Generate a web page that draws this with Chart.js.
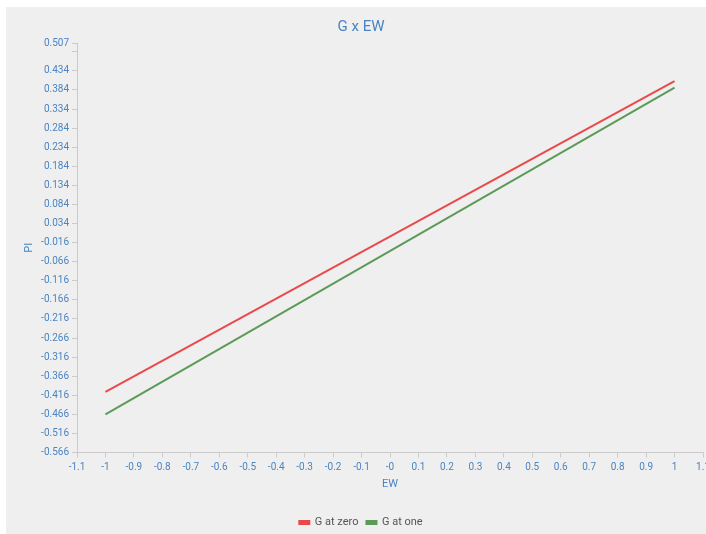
<!DOCTYPE html>
<html>
<head>
<meta charset="utf-8">
<script src="https://cdn.jsdelivr.net/npm/chart.js@4"></script>
<style>
  html, body { margin: 0; padding: 0; background: #ffffff; overflow: hidden; width: 706px; height: 534px; }
  #frame { position: absolute; left: 6px; top: 7px; width: 710px; height: 531px; background: #efefef; }
  canvas { display: block; }
</style>
</head>
<body>
<div id="frame"><canvas id="chart" width="710" height="531"></canvas></div>
<script>
// EW values at which the simple slopes are evaluated
const ewValues = [-1, 1];
// Predicted PI for each level of G
const gAtZero = [-0.407, 0.407];
const gAtOne = [-0.466, 0.39];
const seriesNames = ['G at zero', 'G at one'];

// Axis ticks and their labels
const xTicks = [-1.1, -1, -0.9, -0.8, -0.7, -0.6, -0.5, -0.4, -0.3, -0.2, -0.1, 0, 0.1, 0.2, 0.3, 0.4, 0.5, 0.6, 0.7, 0.8, 0.9, 1, 1.1];
const xTickLabels = ['-1.1', '-1', '-0.9', '-0.8', '-0.7', '-0.6', '-0.5', '-0.4', '-0.3', '-0.2', '-0.1', '-0', '0.1', '0.2', '0.3', '0.4', '0.5', '0.6', '0.7', '0.8', '0.9', '1', '1.1'];
const yTicks = [-0.566, -0.516, -0.466, -0.416, -0.366, -0.316, -0.266, -0.216, -0.166, -0.116, -0.066, -0.016, 0.034, 0.084, 0.134, 0.184, 0.234, 0.284, 0.334, 0.384, 0.434, 0.484, 0.507];
const yTickLabels = ['-0.566', '-0.516', '-0.466', '-0.416', '-0.366', '-0.316', '-0.266', '-0.216', '-0.166', '-0.116', '-0.066', '-0.016', '0.034', '0.084', '0.134', '0.184', '0.234', '0.284', '0.334', '0.384', '0.434', '', '0.507'];

const blue = '#4a84c2';
const axisGrey = '#cbcbcb';
const fontFamily = 'Roboto, "Liberation Sans", sans-serif';

const toPoints = ys => ewValues.map((x, i) => ({ x: x, y: ys[i] }));

new Chart(document.getElementById('chart'), {
  type: 'line',
  data: {
    datasets: [
      {
        label: seriesNames[0],
        data: toPoints(gAtZero),
        borderColor: '#e84a4c',
        backgroundColor: '#e84a4c',
        borderWidth: 2,
        pointRadius: 0,
        tension: 0
      },
      {
        label: seriesNames[1],
        data: toPoints(gAtOne),
        borderColor: '#5c9a58',
        backgroundColor: '#5c9a58',
        borderWidth: 2,
        pointRadius: 0,
        tension: 0
      }
    ]
  },
  options: {
    responsive: false,
    animation: false,
    devicePixelRatio: 1,
    layout: { padding: 0 },
    plugins: {
      title: {
        display: true,
        text: 'G x EW',
        color: blue,
        font: { family: fontFamily, size: 15, weight: 'normal' },
        padding: { top: 11.5, bottom: 6.5 }
      },
      legend: {
        position: 'bottom',
        labels: {
          color: '#555555',
          font: { family: fontFamily, size: 11 },
          boxWidth: 10,
          boxHeight: 3,
          padding: 8
        }
      },
      tooltip: { enabled: false }
    },
    scales: {
      x: {
        type: 'linear',
        min: -1.1,
        max: 1.1,
        afterBuildTicks: s => { s.ticks = xTicks.map(v => ({ value: v })); },
        afterFit: s => { s.height = 56.5; s.paddingRight = 13; },
        ticks: {
          autoSkip: false,
          maxRotation: 0,
          padding: 4,
          color: blue,
          font: { family: fontFamily, size: 10 },
          callback: (v, i) => xTickLabels[i]
        },
        grid: { drawOnChartArea: false, drawTicks: true, tickLength: 5, color: axisGrey },
        border: { display: true, color: axisGrey, width: 1 },
        title: {
          display: true,
          text: 'EW',
          color: blue,
          font: { family: fontFamily, size: 11 },
          padding: { top: 3, bottom: 18 }
        }
      },
      y: {
        type: 'linear',
        min: -0.566,
        max: 0.507,
        afterBuildTicks: s => { s.ticks = yTicks.map(v => ({ value: v })); },
        afterFit: s => { s.width = 71; },
        ticks: {
          autoSkip: false,
          padding: 3,
          color: blue,
          font: { family: fontFamily, size: 10 },
          callback: (v, i) => yTickLabels[i]
        },
        grid: { drawOnChartArea: false, drawTicks: true, tickLength: 5, color: axisGrey },
        border: { display: true, color: axisGrey, width: 1 },
        title: {
          display: true,
          text: 'PI',
          color: blue,
          font: { family: fontFamily, size: 11 },
          padding: { top: 16.4, bottom: 4 }
        }
      }
    }
  }
});
</script>
</body>
</html>
